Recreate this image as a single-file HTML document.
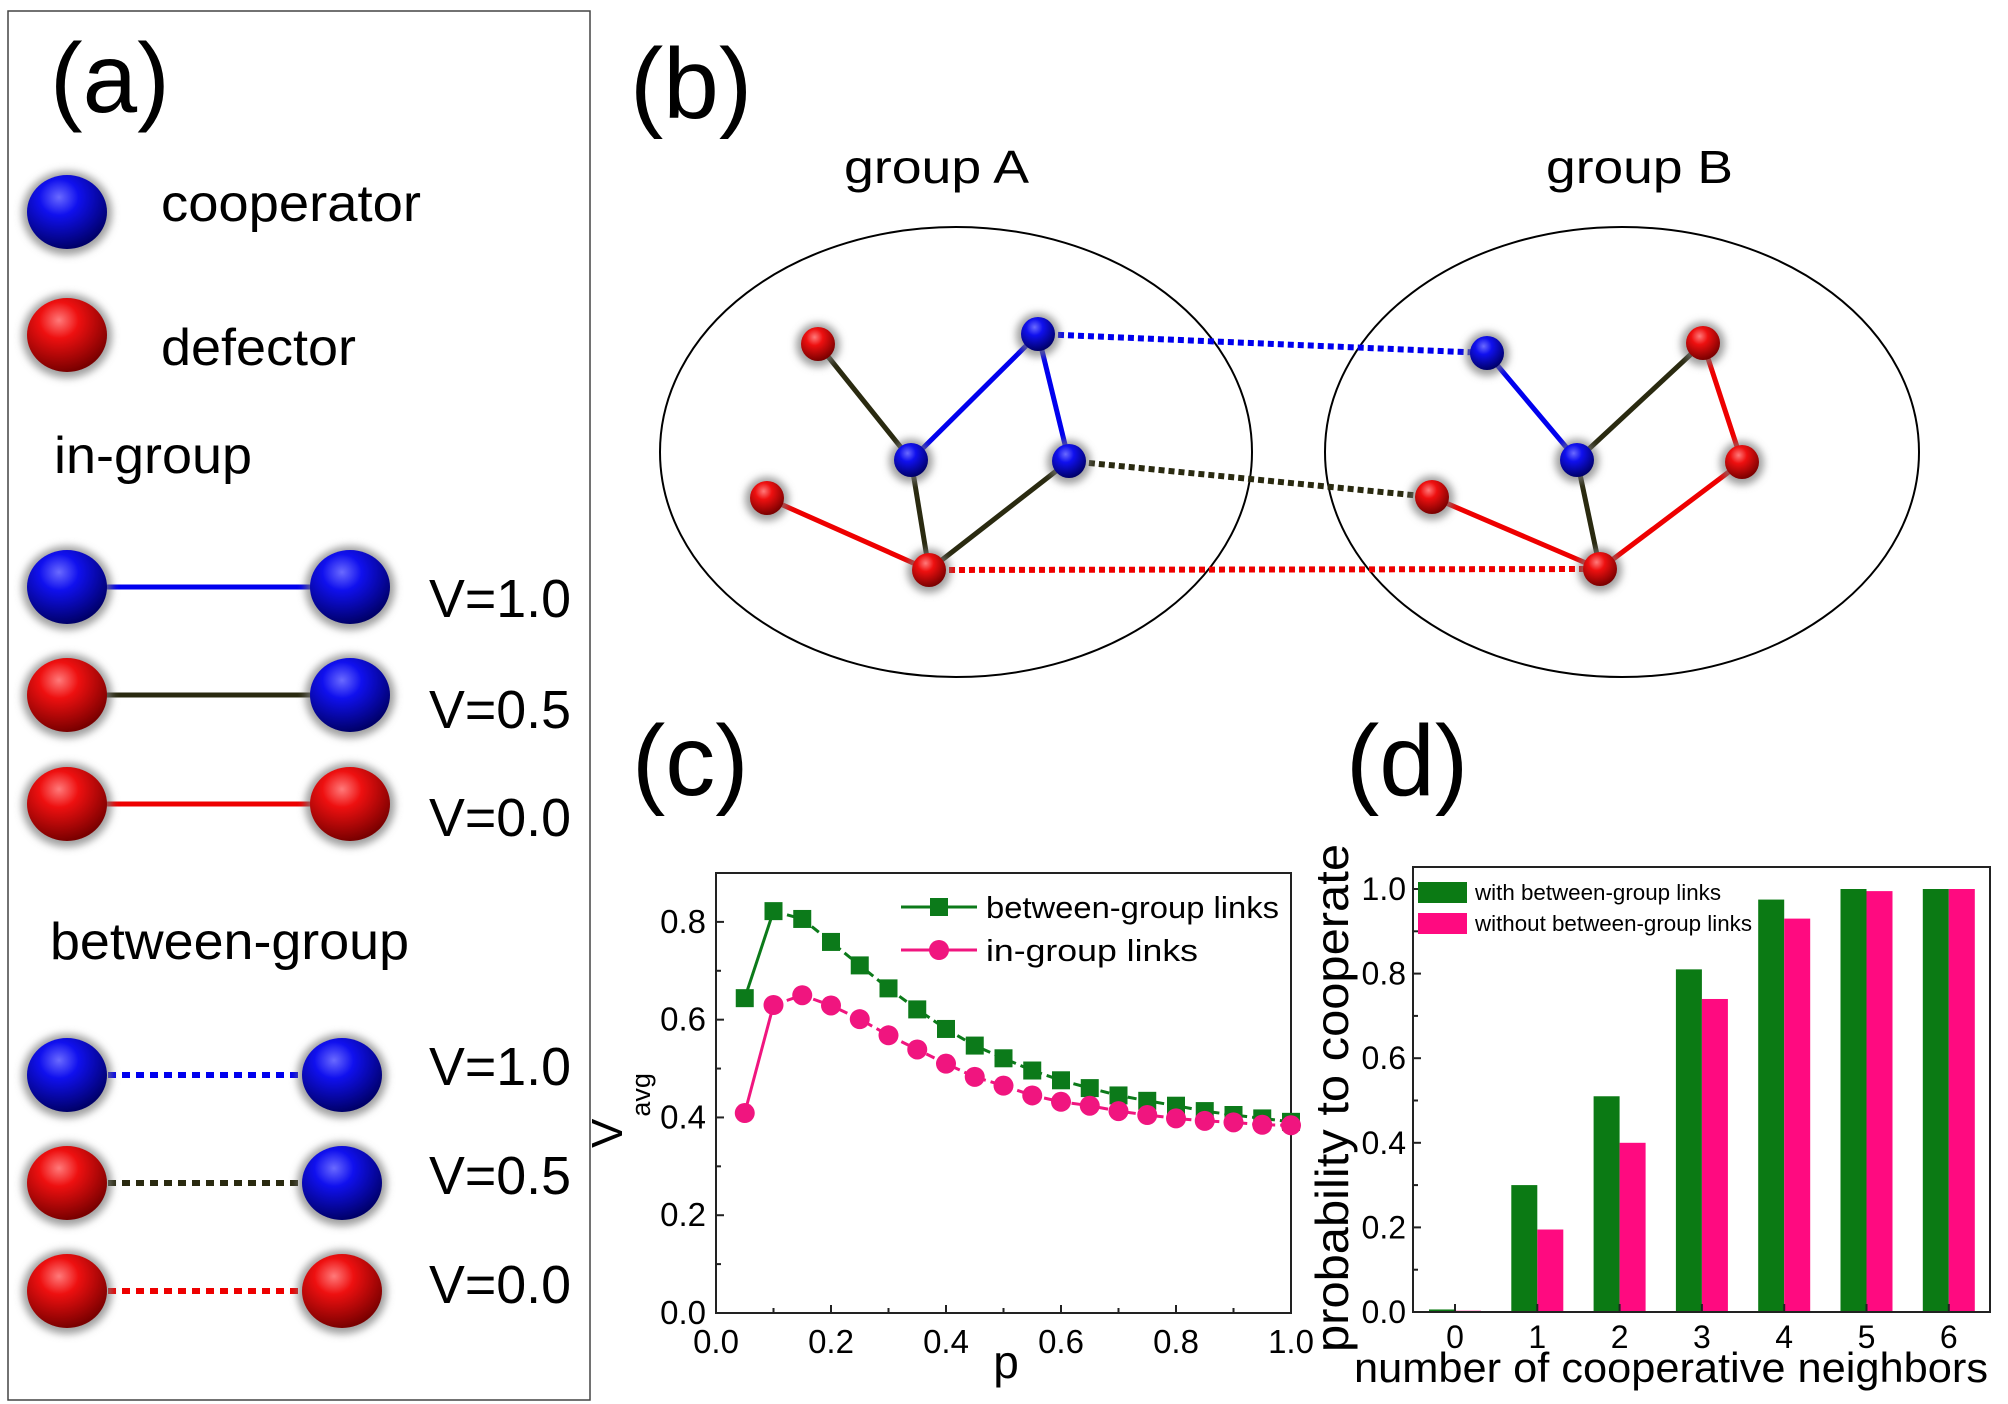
<!DOCTYPE html>
<html><head><meta charset="utf-8"><style>
html,body{margin:0;padding:0;background:#fff;}
svg{display:block;}
text{font-family:"Liberation Sans",Arial,sans-serif;fill:#000;}
</style></head><body>
<svg id="fig" xmlns="http://www.w3.org/2000/svg" width="2008" height="1404" viewBox="0 0 2008 1404">
<defs>
<radialGradient id="gBlue" cx="0.4" cy="0.3" r="0.7"><stop offset="0" stop-color="#6a6aff"/><stop offset="0.35" stop-color="#1010ee"/><stop offset="1" stop-color="#00006a"/></radialGradient>
<radialGradient id="gRed" cx="0.4" cy="0.3" r="0.7"><stop offset="0" stop-color="#ff7a7a"/><stop offset="0.35" stop-color="#ee1010"/><stop offset="1" stop-color="#7a0000"/></radialGradient>
<filter id="glow" x="-50%" y="-50%" width="200%" height="200%"><feGaussianBlur stdDeviation="4"/></filter>
</defs>
<g id="panelA">
<rect x="8" y="11" width="582" height="1389" fill="none" stroke="#444" stroke-width="1.5"/>
<text x="50" y="112" font-size="98">(a)</text>
<text x="161" y="221" font-size="52" textLength="260" lengthAdjust="spacingAndGlyphs">cooperator</text>
<text x="161" y="365" font-size="52" textLength="195" lengthAdjust="spacingAndGlyphs">defector</text>
<text x="54" y="473" font-size="52" textLength="198" lengthAdjust="spacingAndGlyphs">in-group</text>
<text x="50" y="959" font-size="52" textLength="359" lengthAdjust="spacingAndGlyphs">between-group</text>
<text x="429" y="617" font-size="54" textLength="142" lengthAdjust="spacingAndGlyphs">V=1.0</text>
<text x="429" y="728" font-size="54" textLength="142" lengthAdjust="spacingAndGlyphs">V=0.5</text>
<text x="429" y="836" font-size="54" textLength="142" lengthAdjust="spacingAndGlyphs">V=0.0</text>
<text x="429" y="1085" font-size="54" textLength="142" lengthAdjust="spacingAndGlyphs">V=1.0</text>
<text x="429" y="1194" font-size="54" textLength="142" lengthAdjust="spacingAndGlyphs">V=0.5</text>
<text x="429" y="1303" font-size="54" textLength="142" lengthAdjust="spacingAndGlyphs">V=0.0</text>
</g>
<g id="panelB">
<text x="630" y="118" font-size="100">(b)</text>
<text x="844" y="183" font-size="46" textLength="185" lengthAdjust="spacingAndGlyphs">group A</text>
<text x="1546" y="183" font-size="46" textLength="187" lengthAdjust="spacingAndGlyphs">group B</text>
<ellipse cx="956" cy="452" rx="296" ry="225" fill="none" stroke="#000" stroke-width="2"/>
<ellipse cx="1622" cy="452" rx="297" ry="225" fill="none" stroke="#000" stroke-width="2"/>
</g>
<g id="panelC"></g>
<g id="panelD"></g>
</svg>
<script>
// ---- Panel (c) data ----
const pValues = [0.05,0.1,0.15,0.2,0.25,0.3,0.35,0.4,0.45,0.5,0.55,0.6,0.65,0.7,0.75,0.8,0.85,0.9,0.95,1.0];
const betweenGroup = [0.644,0.822,0.806,0.759,0.711,0.664,0.621,0.581,0.547,0.521,0.496,0.476,0.46,0.445,0.434,0.424,0.413,0.405,0.398,0.391];
const inGroup = [0.409,0.63,0.65,0.629,0.601,0.568,0.539,0.51,0.483,0.465,0.445,0.432,0.424,0.413,0.405,0.398,0.393,0.39,0.385,0.384];
const cXTicks = ["0.0","0.2","0.4","0.6","0.8","1.0"];
const cYTicks = ["0.0","0.2","0.4","0.6","0.8"];
// ---- Panel (d) data ----
const neighborCats = ["0","1","2","3","4","5","6"];
const withLinks = [0.006,0.30,0.51,0.81,0.975,1.0,1.0];
const withoutLinks = [0.003,0.195,0.40,0.74,0.93,0.995,1.0];
const dYTicks = ["0.0","0.2","0.4","0.6","0.8","1.0"];

const NS="http://www.w3.org/2000/svg";
function mk(tag, parent, attrs){const e=document.createElementNS(NS,tag);for(const k in attrs)e.setAttribute(k,attrs[k]);parent.appendChild(e);return e;}

function ball(parent,cx,cy,rx,ry,color,name){
  const g=mk('g',parent,{});
  
  
  mk('ellipse',g,{cx:cx,cy:cy+1,rx:rx+5,ry:ry+5,fill:'#777','fill-opacity':0.7,filter:'url(#glow)'});
  mk('ellipse',g,{cx:cx,cy:cy,rx:rx,ry:ry,fill:color==='b'?'url(#gBlue)':'url(#gRed)'});
}
const A=document.getElementById('panelA');
ball(A,67,212,40,37,'b','cooperator-ball');
ball(A,67,335,40,37,'r','defector-ball');
const rowsIn=[[587,'b','b','#0000ee'],[695,'r','b','#2a2a10'],[804,'r','r','#ee0000']];
rowsIn.forEach((r,i)=>{
  const l=mk('line',A,{x1:100,y1:r[0],x2:320,y2:r[0],stroke:r[3],'stroke-width':5});
  
  
  ball(A,67,r[0],40,37,r[1],'in-left-ball');ball(A,350,r[0],40,37,r[2],'in-right-ball');
});
const rowsBt=[[1075,'b','b','#0000ee'],[1183,'r','b','#2a2a10'],[1291,'r','r','#ee0000']];
rowsBt.forEach((r,i)=>{
  const l=mk('line',A,{x1:108,y1:r[0],x2:305,y2:r[0],stroke:r[3],'stroke-width':6,'stroke-dasharray':'8 6'});
  
  
  ball(A,67,r[0],40,37,r[1],'bt-left-ball');ball(A,342,r[0],40,37,r[2],'bt-right-ball');
});

const B=document.getElementById('panelB');
const nodes={a1:[818,344,'r'],a2:[1038,334,'b'],a3:[911,460,'b'],a4:[1069,461,'b'],a5:[767,498,'r'],a6:[929,570,'r'],
 b1:[1487,353,'b'],b2:[1703,343,'r'],b3:[1577,460,'b'],b4:[1742,462,'r'],b5:[1432,497,'r'],b6:[1600,569,'r']};
const edges=[['a1','a3','#2a2a10',0],['a3','a2','#0000ee',0],['a2','a4','#0000ee',0],['a3','a6','#2a2a10',0],['a6','a4','#2a2a10',0],['a5','a6','#ee0000',0],
 ['b1','b3','#0000ee',0],['b3','b2','#2a2a10',0],['b2','b4','#ee0000',0],['b4','b6','#ee0000',0],['b3','b6','#2a2a10',0],['b5','b6','#ee0000',0],
 ['a2','b1','#0000ee',1],['a4','b5','#2a2a10',1],['a6','b6','#ee0000',1]];
edges.forEach(e=>{
  const p=nodes[e[0]],q=nodes[e[1]];
  const l=mk('line',B,{x1:p[0],y1:p[1],x2:q[0],y2:q[1],stroke:e[2],'stroke-width':e[3]?6:5});
  if(e[3])l.setAttribute('stroke-dasharray','6 4');
  
  
});
for(const k in nodes){const n=nodes[k];ball(B,n[0],n[1],17,17,n[2],'network-node');}

const C=document.getElementById('panelC');
const cL=716,cR=1291,cT=873,cB=1313;
const cx=v=>cL+(v-0)/(1-0)*(cR-cL);
const cy=v=>cB-(v-0)/0.9*(cB-cT);
const lc=mk('text',C,{x:632,y:795,'font-size':100});
lc.textContent='(c)';


const cbox=mk('rect',C,{x:cL,y:cT,width:cR-cL,height:cB-cT,fill:'none',stroke:'#222','stroke-width':2});


for(let i=0;i<=9;i++){const y=cy(i*0.1);const major=i%2===0;
  mk('line',C,{x1:cL,y1:y,x2:cL+(major?8:5),y2:y,stroke:'#222','stroke-width':2});}
for(let i=0;i<=10;i++){const x=cx(i*0.1);const major=i%2===0;
  mk('line',C,{x1:x,y1:cB,x2:x,y2:cB-(major?8:5),stroke:'#222','stroke-width':2});}
cYTicks.forEach(t=>{const e=mk('text',C,{x:706,y:cy(parseFloat(t))+11,'font-size':33,'text-anchor':'end'});e.textContent=t;
  
  });
cXTicks.forEach(t=>{const e=mk('text',C,{x:cx(parseFloat(t)),y:1353,'font-size':33,'text-anchor':'middle'});e.textContent=t;
  
  });
const px=mk('text',C,{x:1006,y:1378,'font-size':46,'text-anchor':'middle'});px.textContent='p';


const yt=mk('text',C,{x:0,y:0,'font-size':44,transform:'translate(622,1148) rotate(-90)'});


const ts1=mk('tspan',yt,{});ts1.textContent='V';
const ts2=mk('tspan',yt,{'font-size':27,dy:28,dx:2});ts2.textContent='avg';
function series(vals,color,shape,name){
  const g=mk('g',C,{});
  
  
  const pts=pValues.map((p,i)=>[cx(p),cy(vals[i])]);
  mk('line',g,{x1:pts[0][0],y1:pts[0][1],x2:pts[1][0],y2:pts[1][1],stroke:color,'stroke-width':3});
  let d='M'+pts.slice(1).map(p=>p[0].toFixed(1)+','+p[1].toFixed(1)).join(' L');
  mk('path',g,{d:d,fill:'none',stroke:color,'stroke-width':3,'stroke-dasharray':'9 5'});
  pts.forEach(p=>{let m;
    if(shape==='sq')m=mk('rect',g,{x:p[0]-9,y:p[1]-9,width:18,height:18,fill:color});
    else m=mk('circle',g,{cx:p[0],cy:p[1],r:10,fill:color});
    
    });
}
series(betweenGroup,'#0c7a1a','sq','between-group-series');
series(inGroup,'#f0157f','ci','in-group-series');
const lg=mk('g',C,{});


mk('line',lg,{x1:901,y1:907,x2:977,y2:907,stroke:'#0c7a1a','stroke-width':3});
mk('rect',lg,{x:930,y:898,width:18,height:18,fill:'#0c7a1a'});
mk('line',lg,{x1:901,y1:950,x2:977,y2:950,stroke:'#f0157f','stroke-width':3});
mk('circle',lg,{cx:939,cy:950,r:10,fill:'#f0157f'});
const lt1=mk('text',lg,{x:986,y:918,'font-size':31,textLength:293,lengthAdjust:'spacingAndGlyphs'});lt1.textContent='between-group links';


const lt2=mk('text',lg,{x:986,y:961,'font-size':31,textLength:212,lengthAdjust:'spacingAndGlyphs'});lt2.textContent='in-group links';



const D=document.getElementById('panelD');
const dL=1413,dR=1990,dT=867,dB=1312;
const dy=v=>dB-v/1.0*(dB-889);
const dxc=i=>1455+i*82.3;
const ld=mk('text',D,{x:1346,y:795,'font-size':100});ld.textContent='(d)';


withLinks.forEach((v,i)=>{const r=mk('rect',D,{x:dxc(i)-26,y:dy(v),width:26,height:dB-dy(v),fill:'#0b7a14'});
  
  });
withoutLinks.forEach((v,i)=>{const r=mk('rect',D,{x:dxc(i),y:dy(v),width:26,height:dB-dy(v),fill:'#ff0a80'});
  
  });
const dbox=mk('rect',D,{x:dL,y:dT,width:dR-dL,height:dB-dT,fill:'none',stroke:'#222','stroke-width':2});


for(let i=0;i<=10;i++){const y=dy(i*0.1);const major=i%2===0;
  mk('line',D,{x1:dL,y1:y,x2:dL+(major?8:5),y2:y,stroke:'#222','stroke-width':2});}
neighborCats.forEach((c,i)=>{mk('line',D,{x1:dxc(i),y1:dB,x2:dxc(i),y2:dB-8,stroke:'#222','stroke-width':2});
  const e=mk('text',D,{x:dxc(i),y:1348,'font-size':32,'text-anchor':'middle'});e.textContent=c;
  
  });
dYTicks.forEach(t=>{const e=mk('text',D,{x:1406,y:dy(parseFloat(t))+11,'font-size':32,'text-anchor':'end'});e.textContent=t;
  
  });
const dxt=mk('text',D,{x:1354,y:1382,'font-size':42,textLength:634,lengthAdjust:'spacingAndGlyphs'});dxt.textContent='number of cooperative neighbors';


const dyt=mk('text',D,{x:0,y:0,'font-size':46,textLength:508,lengthAdjust:'spacingAndGlyphs',transform:'translate(1348,1352) rotate(-90)'});dyt.textContent='probability to cooperate';


const dl=mk('g',D,{});


mk('rect',dl,{x:1418,y:882,width:49,height:21,fill:'#0b7a14'});
mk('rect',dl,{x:1418,y:913,width:49,height:21,fill:'#ff0a80'});
const dt1=mk('text',dl,{x:1475,y:900,'font-size':22,textLength:246,lengthAdjust:'spacingAndGlyphs'});dt1.textContent='with between-group links';


const dt2=mk('text',dl,{x:1475,y:931,'font-size':22,textLength:277,lengthAdjust:'spacingAndGlyphs'});dt2.textContent='without between-group links';


</script>
</body></html>
